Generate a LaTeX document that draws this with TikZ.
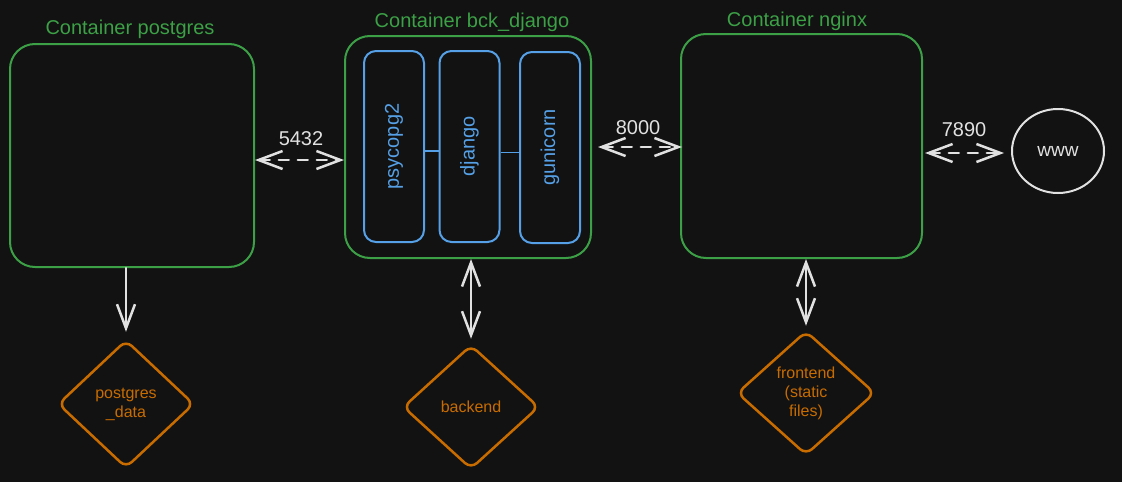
\documentclass[tikz,border=0pt]{standalone}
\usepackage{fontspec}
\setmainfont{Liberation Sans}
\usetikzlibrary{arrows.meta,shapes.geometric}
\definecolor{bg}{RGB}{18,18,18}
\definecolor{cgreen}{RGB}{60,160,70}
\definecolor{cblue}{RGB}{85,160,230}
\definecolor{corange}{RGB}{200,108,0}
\definecolor{cwhite}{RGB}{225,225,225}
\begin{document}
\begin{tikzpicture}[x=1pt,y=-1pt,
  container/.style={draw=cgreen,line width=2pt,rounded corners=25pt,inner sep=0pt,shape=rectangle},
  inner/.style={draw=cblue,line width=2pt,rounded corners=12pt,inner sep=0pt,minimum width=60pt,minimum height=191pt,
    text=cblue,font=\fontsize{20}{24}\selectfont},
  clabel/.style={text=cgreen,font=\fontsize{20}{24}\selectfont,inner sep=0pt},
  plabel/.style={text=cwhite,font=\fontsize{20}{24}\selectfont,inner sep=0pt},
  volume/.style={shape=diamond,draw=corange,line width=2.5pt,rounded corners=8pt,inner sep=0pt,
    text=corange,font=\fontsize{16}{19}\selectfont,align=center},
  link/.style={draw=cwhite,line width=2.5pt,line cap=round,{Straight Barb[length=24pt,width=18pt]}-{Straight Barb[length=24pt,width=18pt]}},
  onelink/.style={draw=cwhite,line width=2.5pt,line cap=round,-{Straight Barb[length=24pt,width=18pt]}},
  dashlink/.style={link,dash pattern=on 10pt off 9pt}]
\fill[bg] (0,0) rectangle (1122,482);
\useasboundingbox (0,0) rectangle (1122,482);

% containers
\node[container,minimum width=244pt,minimum height=223pt] (pg) at (132,155.5) {};
\node[container,minimum width=246pt,minimum height=222pt] (dj) at (468,147) {};
\node[container,minimum width=241pt,minimum height=224pt] (ng) at (801.5,146) {};

\node[clabel] (pgl) at (130,29) {Container postgres};
\node[clabel] (djl) at (472,22) {Container bck\_django};
\node[clabel] (ngl) at (797,21) {Container nginx};

% inner components
\node[inner] (psy) at (394,146.5) {\rotatebox{90}{psycopg2}};
\node[inner] (djn) at (469.5,146.5) {\rotatebox{90}{django}};
\node[inner] (gun) at (550,147.5) {\rotatebox{90}{gunicorn}};
\draw[cblue,line width=1.5pt] ([yshift=-4.5pt]psy.east) -- ([yshift=-4.5pt]djn.west);
\draw[cblue,line width=1.5pt] ([yshift=-6pt]djn.east) -- ([yshift=-6pt]djn.east -| gun.west);

% www
\node[shape=ellipse,draw=cwhite,line width=2pt,minimum width=92pt,minimum height=84pt,inner sep=0pt,
  text=cwhite,font=\fontsize{19}{22}\selectfont] (www) at (1058,151) {www};

% volumes
\node[volume,minimum width=136pt,minimum height=128pt] (pgd) at (126,404) {postgres\\\_data};
\node[volume,minimum width=136pt,minimum height=124pt] (bkd) at (471,407) {backend};
\node[volume,minimum width=138pt,minimum height=124pt] (fed) at (806,393) {frontend\\(static\\files)};

% port links
\draw[dashlink] ([yshift=-4.5pt]pg.east) -- ([yshift=-4.5pt]pg.east -| dj.west);
\node[plabel] (p1) at (301,139) {5432};
\draw[dashlink,shorten <=6pt,shorten >=-2pt] (dj.east |- 0,147) -- (ng.west |- 0,147);
\node[plabel] (p2) at (638,128) {8000};
\draw[dashlink,shorten <=2pt,shorten >=7pt] (ng.east |- 0,153) -- (www.west |- 0,153);
\node[plabel] (p3) at (964,130) {7890};

% volume links
\draw[onelink,shorten >=7pt] (pgd.north |- pg.south) -- (pgd.north);
\draw[link,shorten >=5pt] (bkd.north |- dj.south) -- (bkd.north);
\draw[link,shorten >=4pt] (fed.north |- ng.south) -- (fed.north);
\end{tikzpicture}
\end{document}
